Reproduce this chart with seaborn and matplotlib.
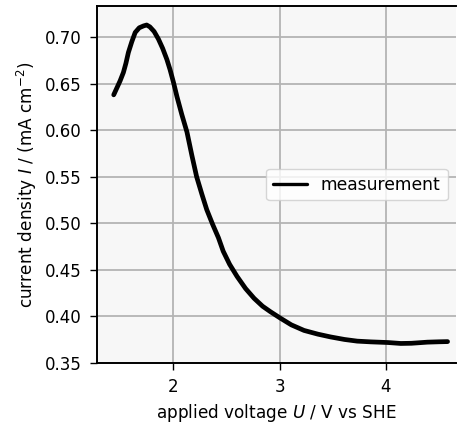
import matplotlib
matplotlib.use("Agg")
import matplotlib.pyplot as plt
import seaborn as sns
import pandas as pd

voltage = [1.44, 1.468, 1.50, 1.531, 1.555, 1.578, 1.61, 1.642, 1.68, 1.72, 1.75, 1.78, 1.82,
           1.86, 1.90, 1.94, 1.97, 2.003, 2.035, 2.08, 2.129, 2.175, 2.22, 2.27, 2.315, 2.37,
           2.425, 2.47, 2.53, 2.60, 2.68, 2.76, 2.84, 2.915, 3.01, 3.11, 3.23, 3.36, 3.48,
           3.61, 3.73, 3.86, 4.02, 4.14, 4.24, 4.39, 4.50, 4.58]
current = [0.638, 0.645, 0.653, 0.662, 0.672, 0.6835, 0.695, 0.705, 0.710, 0.712, 0.713, 0.711, 0.706,
           0.698, 0.688, 0.676, 0.665, 0.651, 0.636, 0.617, 0.598, 0.573, 0.550, 0.531, 0.5147, 0.499,
           0.4845, 0.470, 0.456, 0.443, 0.430, 0.4195, 0.411, 0.405, 0.398, 0.391, 0.385, 0.381, 0.378,
           0.3753, 0.3735, 0.3727, 0.372, 0.371, 0.3712, 0.3724, 0.3728, 0.373]
series_label = "measurement"
yticks = [0.35, 0.40, 0.45, 0.50, 0.55, 0.60, 0.65, 0.70]
xticks = [2, 3, 4]

df = pd.DataFrame({"U": voltage, "I": current, "kind": series_label})

sns.set_style("whitegrid")
plt.rcParams["font.family"] = ["DejaVu Sans"]
plt.rcParams["text.color"] = "black"
plt.rcParams["axes.labelcolor"] = "black"

fig = plt.figure(figsize=(4.57, 4.23), dpi=100)
ax = fig.add_axes([0.2123, 0.1418, 0.7857, 0.844])
ax.set_facecolor("#f7f7f7")
fig.patch.set_facecolor("white")

sns.lineplot(data=df, x="U", y="I", hue="kind", palette=["black"], linewidth=3.4, ax=ax,
             legend=True)

ax.set_xlim(1.283, 4.66)
ax.set_ylim(0.35, 0.7334)
ax.set_xticks(xticks)
ax.set_yticks(yticks)
ax.set_yticklabels([f"{t:.2f}" for t in yticks])
ax.grid(True, color="#b4b4b4", linewidth=1.3)
ax.tick_params(axis="both", which="both", length=5, width=1, pad=6, color="black", labelsize=12,
               left=True, bottom=True, labelcolor="black")
for side in ["left", "bottom", "top"]:
    ax.spines[side].set_visible(True)
    ax.spines[side].set_color("black")
    ax.spines[side].set_linewidth(1.4)
ax.spines["right"].set_visible(False)

ax.set_xlabel(r"applied voltage $U$ / V vs SHE", fontsize=12.2, color="black")
ax.set_ylabel(r"current density $I$ / (mA cm$^{-2}$)", fontsize=12.2, color="black")

leg = ax.legend(loc="center right", fontsize=12.3, frameon=True, fancybox=True)
for h in leg.get_lines():
    h.set_linewidth(2.4)
for t in leg.get_texts():
    t.set_color("black")
leg.get_frame().set_edgecolor("#cccccc")
leg.get_frame().set_facecolor("white")

fig.savefig("out.png", dpi=100)
